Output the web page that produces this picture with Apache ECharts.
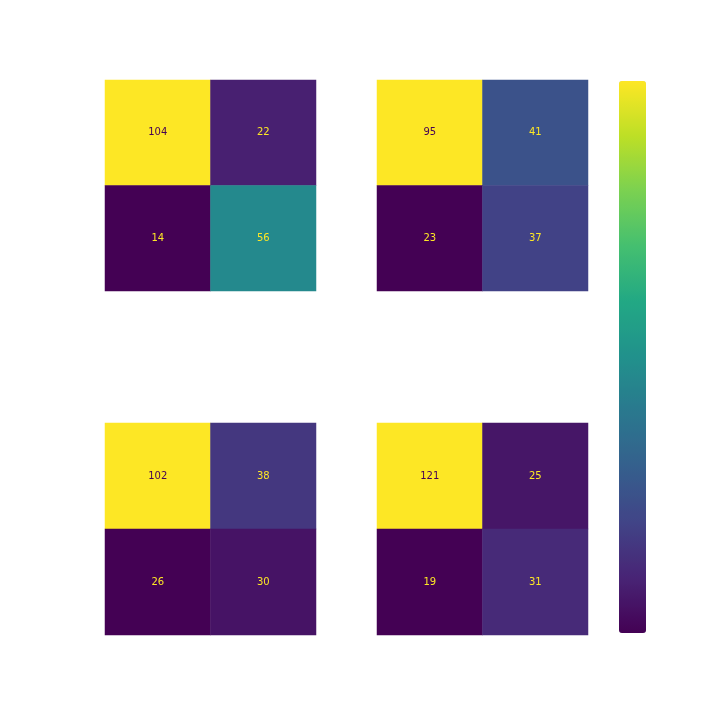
<!DOCTYPE html>
<html>
<head>
<meta charset="utf-8">
<script src="https://cdn.jsdelivr.net/npm/echarts@6/dist/echarts.min.js"></script>
<style>html,body{margin:0;padding:0;background:#fff}#c{width:720px;height:720px}</style>
</head>
<body>
<div id="c"></div>
<script>
const classes = ['0', '1'];
const cmTopLeft = [[104, 22], [14, 56]];
const cmTopRight = [[95, 41], [23, 37]];
const cmBottomLeft = [[102, 38], [26, 30]];
const cmBottomRight = [[121, 25], [19, 31]];
const matrices = [cmTopLeft, cmTopRight, cmBottomLeft, cmBottomRight];

const viridis = ['#440154','#482475','#414487','#355f8d','#2a788e','#21918c','#22a884','#44bf70','#7ad151','#bddf26','#fde725'];

const boxes = [
  {left: 105, top: 80, width: 211, height: 211},
  {left: 377, top: 80, width: 211, height: 211},
  {left: 105, top: 423, width: 211, height: 212},
  {left: 377, top: 423, width: 211, height: 212}
];

const grids = [], xAxes = [], yAxes = [], series = [], visualMaps = [];
matrices.forEach((m, i) => {
  grids.push(Object.assign({}, boxes[i]));
  xAxes.push({type: 'category', gridIndex: i, data: classes, show: false});
  yAxes.push({type: 'category', gridIndex: i, data: classes, show: false, inverse: true});
  const flat = m.flat();
  const mn = Math.min(...flat), mx = Math.max(...flat);
  const thr = (mn + mx) / 2;
  const data = [];
  m.forEach((row, r) => row.forEach((v, c) => {
    data.push({value: [c, r, v], label: {color: v >= thr ? '#440154' : '#fde725'}});
  }));
  series.push({
    type: 'heatmap', xAxisIndex: i, yAxisIndex: i, data: data,
    label: {show: true, fontFamily: 'DejaVu Sans', fontSize: 10},
    itemStyle: {borderWidth: 0},
    emphasis: {disabled: true}
  });
  visualMaps.push({
    type: 'continuous', seriesIndex: i, min: mn, max: mx, dimension: 2,
    inRange: {color: viridis},
    show: i === 0,
    calculable: false, text: null, showLabel: false,
    left: 619, top: 81, itemWidth: 27, itemHeight: 552, padding: 0,
    hoverLink: false
  });
});

const chart = echarts.init(document.getElementById('c'), null, {renderer: 'canvas'});
chart.setOption({
  animation: false,
  backgroundColor: '#ffffff',
  grid: grids, xAxis: xAxes, yAxis: yAxes,
  visualMap: visualMaps,
  series: series
});
</script>
</body>
</html>
